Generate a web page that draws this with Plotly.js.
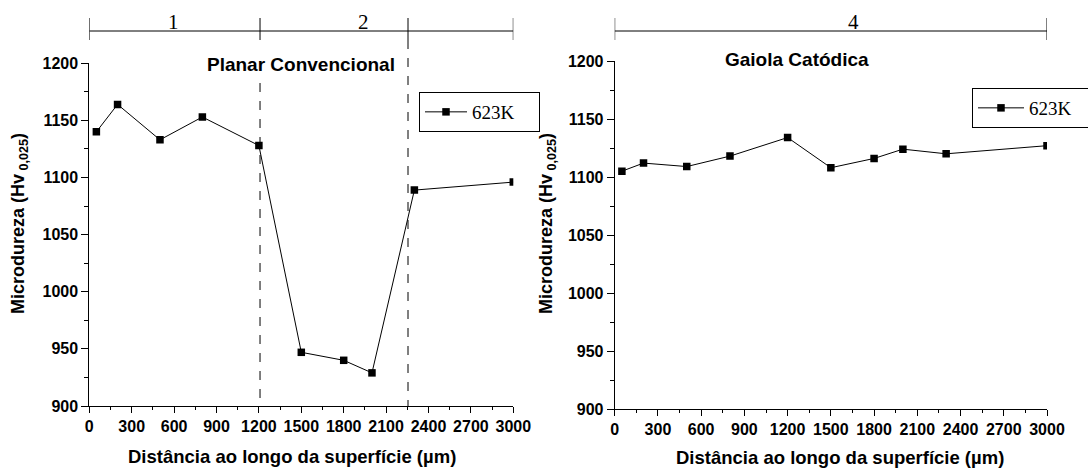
<!DOCTYPE html>
<html><head><meta charset="utf-8">
<script src="https://cdn.plot.ly/plotly-3.0.1.min.js"></script>
<style>html,body{margin:0;padding:0;background:#fff}#c{width:1088px;height:468px}</style>
</head><body><div id="c"></div>
<script>
// Data
const xPlanar = [50, 200, 500, 800, 1200, 1500, 1800, 2000, 2300, 3000];
const yPlanar = [1140, 1164, 1133, 1153, 1128, 947, 940, 929, 1089, 1096];
const xGaiola = [50, 200, 500, 800, 1200, 1500, 1800, 2000, 2300, 3000];
const yGaiola = [1105, 1112, 1109, 1118, 1134, 1108, 1116, 1124, 1120, 1127];
const seriesName = '623K';
const planarBounds = [0, 1208, 2255, 3000];   // region borders (µm)
const planarLabels = [{t:'1', x:599}, {t:'2', x:1937}];
const gaiolaBounds = [0, 3000];
const gaiolaLabels = [{t:'4', x:1659}];
const yTicks = [900, 950, 1000, 1050, 1100, 1150, 1200];
const xTicks = [0, 300, 600, 900, 1200, 1500, 1800, 2100, 2400, 2700, 3000];

const W = 1088, H = 468;
const px = v => v / W, py = v => 1 - v / H;
const sans = 'Liberation Sans, Arial, sans-serif';
const serif = 'Liberation Serif, Times New Roman, serif';

const trace = (x, y, xa, ya, lg) => ({
  x, y, xaxis: xa, yaxis: ya, legend: lg, name: seriesName, type: 'scatter', mode: 'lines+markers',
  line: {color: '#000', width: 1}, marker: {symbol: 'square', size: 7.5, color: '#000'}
});

const tickFont = {family: sans, size: 16, color: '#000', weight: 'bold'};
const axX = (dom, anchor) => ({
  domain: dom, anchor, range: [0, 3000], tickvals: xTicks, ticktext: xTicks.map(String),
  ticks: 'outside', ticklen: 6, tickwidth: 1, tickcolor: '#000', showline: true, linecolor: '#000', linewidth: 1,
  showgrid: false, zeroline: false, tickfont: tickFont,
  minor: {tickvals: xTicks.slice(0, -1).map(v => v + 150), ticks: 'outside', ticklen: 3, tickcolor: '#000'}
});
const axY = (dom, anchor) => ({
  domain: dom, anchor, range: [900, 1200], tickvals: yTicks, ticktext: yTicks.map(String),
  ticks: 'outside', ticklen: 7, tickwidth: 1, tickcolor: '#000', showline: true, linecolor: '#000', linewidth: 1,
  showgrid: false, zeroline: false, tickfont: tickFont,
  minor: {tickvals: yTicks.slice(0, -1).map(v => v + 25), ticks: 'outside', ticklen: 4, tickcolor: '#000'}
});

const shapes = [];
const annotations = [];
const ann = (o) => annotations.push(Object.assign({showarrow: false, xanchor: 'center', yanchor: 'middle'}, o));
function bracket(xref, bounds, labels) {
  shapes.push({type: 'line', xref, yref: 'paper', x0: bounds[0], x1: bounds[bounds.length - 1], y0: py(31), y1: py(31), line: {color: '#000', width: 1}});
  bounds.forEach(b => shapes.push({type: 'line', xref, yref: 'paper', x0: b, x1: b, y0: py(18), y1: py(40), line: {color: '#000', width: 1}}));
  labels.forEach(l => ann({xref, yref: 'paper', x: l.x, y: py(22), text: l.t, font: {family: serif, size: 21, color: '#000'}}));
}
bracket('x', planarBounds, planarLabels);
bracket('x2', gaiolaBounds, gaiolaLabels);
// dashed region separators (planar)
shapes.push({type: 'line', xref: 'x', yref: 'paper', x0: planarBounds[1], x1: planarBounds[1], y0: py(83), y1: py(406), line: {color: '#000', width: 1, dash: 'dash'}});
shapes.push({type: 'line', xref: 'x', yref: 'paper', x0: planarBounds[2], x1: planarBounds[2], y0: py(40), y1: py(406), line: {color: '#000', width: 1, dash: 'dash'}});

const boldFont = (s) => ({family: sans, size: s, color: '#000', weight: 'bold'});
ann({xref: 'paper', yref: 'paper', x: px(301), y: py(65), text: 'Planar Convencional', font: boldFont(19)});
ann({xref: 'paper', yref: 'paper', x: px(797), y: py(60), text: 'Gaiola Catódica', font: boldFont(19)});
const yTitle = 'Microdureza (Hv<sub> 0,025</sub>)';
ann({xref: 'paper', yref: 'paper', x: px(19), y: py(224), text: yTitle, textangle: -90, font: boldFont(18)});
ann({xref: 'paper', yref: 'paper', x: px(547), y: py(224), text: yTitle, textangle: -90, font: boldFont(18)});
const xTitle = 'Distância ao longo da superfície (µm)';
ann({xref: 'paper', yref: 'paper', x: px(292), y: py(456), text: xTitle, font: boldFont(18.5)});
ann({xref: 'paper', yref: 'paper', x: px(840), y: py(457), text: xTitle, font: boldFont(18.5)});

const legendStyle = (x, y, iw, ew) => ({x: px(x), y: py(y), xanchor: 'left', yanchor: 'middle', bgcolor: '#fff',
  orientation: 'h', entrywidth: ew, entrywidthmode: 'pixels',
  bordercolor: '#000', borderwidth: 1, font: {family: serif, size: 19, color: '#000'}, itemwidth: iw, tracegroupgap: 0});

const layout = {
  width: W, height: H, margin: {l: 0, r: 0, t: 0, b: 0, autoexpand: false}, paper_bgcolor: '#fff', plot_bgcolor: '#fff',
  showlegend: true,
  xaxis: axX([px(89.3), px(513.3)], 'y'),
  yaxis: axY([py(406), py(63.3)], 'x'),
  xaxis2: axX([px(614.7), px(1047)], 'y2'),
  yaxis2: axY([py(409), py(61)], 'x2'),
  legend: legendStyle(419, 112, 42, 62),
  legend2: legendStyle(972, 108, 46, 80),
  shapes, annotations
};

Plotly.newPlot('c', [trace(xPlanar, yPlanar, 'x', 'y', 'legend'), trace(xGaiola, yGaiola, 'x2', 'y2', 'legend2')], layout, {staticPlot: true});
</script></body></html>
